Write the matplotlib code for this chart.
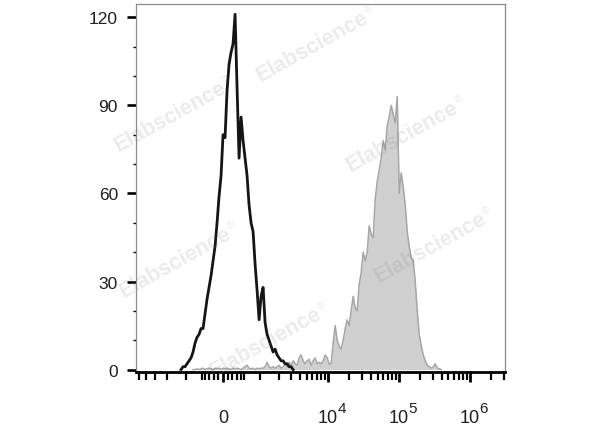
import numpy as np
import matplotlib
matplotlib.use("Agg")
import matplotlib.pyplot as plt

plt.rcParams["font.family"] = ["Liberation Sans", "DejaVu Sans"]

# biexponential-like display: arcsinh(x / cofactor)
COFACTOR = 662.0
T_LEFT, T_RIGHT = -2.825, 9.156
BIN_W = 0.065          # channel width in display units

# isotype control (black outline)
BLACK_T0 = -1.396
black_counts = [0, 1, 1, 2, 3, 4, 6, 9, 11, 12,
                14, 14, 19, 24, 28, 32, 37, 42, 50, 59,
                66, 80, 79, 95, 104, 108, 111, 121, 96, 72,
                86, 78, 72, 66, 56, 50, 47, 36, 27, 17,
                25, 28, 16, 12, 10, 8, 6, 7, 5, 4,
                3, 3, 2, 2, 1, 1, 0]

# stained sample (gray filled)
GRAY_T0 = -1.006
gray_counts = [0, 0, 0.3, 0, 0.3, 0.5, 0, 0.3, 0.5, 0.3,
               0, 0.5, 0.3, 0.5, 0, 0.5, 0.3, 0.5, 0.3, 0,
               0.5, 0.3, 0.5, 0.3, 0, 0.5, 1, 1.5, 0.5, 0.3,
               0.5, 0, 0.5, 0.3, 0.5, 0.5, 1, 2.5, 1, 0.5,
               1, 0.5, 1, 1.5, 0.5, 1, 2, 1, 2.5, 1.5,
               3, 2, 1.5, 4, 5, 3, 2, 3, 3.5, 1.5,
               3, 4, 2, 2.5, 2, 3, 5, 4, 2, 2,
               9, 15, 10, 8, 7, 10, 14, 17, 15, 20,
               25, 21, 20, 29, 33, 40, 37, 40, 49, 46,
               45, 58, 64, 68, 72, 78, 75, 83, 86, 90,
               87, 84, 93, 60, 67, 62, 56, 47, 42, 38,
               37, 30, 20, 12, 8, 5, 3, 1.5, 1, 0.5,
               1, 2, 0.5, 0.3, 0]

x_major = [0, 1e4, 1e5, 1e6]
x_labels = ["0", "10", "10", "10"]
x_exponents = ["", "4", "5", "6"]
x_minor = ([-5000, -4000, -3000, -2000, -1000]
           + [-500, -400, -300, -200, -100, 100, 200, 300, 400, 500]
           + [1000, 2000, 3000, 4000, 5000, 6000, 7000, 8000, 9000]
           + [2e4, 3e4, 4e4, 5e4, 6e4, 7e4, 8e4, 9e4]
           + [2e5, 3e5, 4e5, 5e5, 6e5, 7e5, 8e5, 9e5]
           + [2e6, 3e6])
y_major = [0, 30, 60, 90, 120]
y_minor = [10, 20, 40, 50, 70, 80, 100, 110]

# watermark centres (pixels from top-left)
watermarks = [(170, 117), (312, 47), (402, 137), (175, 263), (430, 248), (265, 343)]


def fwd(x):
    return np.arcsinh(np.asarray(x, dtype=float) / COFACTOR)


def inv(t):
    return COFACTOR * np.sinh(np.asarray(t, dtype=float))


def bin_centers(t0, n):
    return inv(t0 + BIN_W * (np.arange(n) + 0.5))


def main():
    fig = plt.figure(figsize=(6.0, 4.27), dpi=100)
    ax = fig.add_axes([136 / 600, 1 - 373 / 427, 369 / 600, 368 / 427])
    ax.set_xscale("function", functions=(fwd, inv))

    gx = bin_centers(GRAY_T0, len(gray_counts))
    ax.fill_between(gx, 0, gray_counts, color="#d0d0d0", lw=0, zorder=1)
    ax.plot(gx, gray_counts, color="#a6a6a6", lw=1.1, zorder=2)

    bx = bin_centers(BLACK_T0, len(black_counts))
    ax.plot(bx, black_counts, color="#151515", lw=2.0, zorder=3)

    ax.set_xlim(inv(T_LEFT), inv(T_RIGHT))
    ax.set_ylim(-0.8, 124.5)

    ax.set_xticks(x_major)
    ax.set_xticklabels(x_labels)
    ax.set_xticks(x_minor, minor=True)
    ax.set_yticks(y_major)
    ax.set_yticks(y_minor, minor=True)

    ax.tick_params(axis="x", which="major", direction="out", length=7, width=2.0,
                   pad=29, labelsize=13, labelcolor="#1e1e1e")
    ax.tick_params(axis="x", which="minor", direction="out", length=5.5, width=1.6)
    ax.tick_params(axis="y", which="major", direction="out", length=6.5, width=1.9,
                   pad=6.5, labelsize=12.5, labelcolor="#1e1e1e")
    ax.tick_params(axis="y", which="minor", direction="out", length=2.3, width=1.0)
    for lab in ax.get_xticklabels():
        lab.set_verticalalignment("baseline")

    # decade exponents, set as separate raised digits like the original
    for pos, exp in zip(x_major, x_exponents):
        if exp:
            ax.annotate(exp, xy=(pos, 0), xycoords=("data", "axes fraction"),
                        xytext=(7.0, -28.5), textcoords="offset points",
                        ha="left", va="baseline", fontsize=11, color="#1e1e1e",
                        annotation_clip=False)

    for side in ("left", "top", "right"):
        ax.spines[side].set_color("#8c8c8c")
        ax.spines[side].set_linewidth(0.9)
    ax.spines["bottom"].set_color("black")
    ax.spines["bottom"].set_linewidth(2.0)

    # Elabscience watermarks
    ang = np.deg2rad(29)
    for cx, cy in watermarks:
        fig.text(cx / 600, 1 - cy / 427, "Elabscience", rotation=29,
                 rotation_mode="anchor", ha="center", va="center",
                 fontsize=15.5, fontweight="bold", color="#808080", alpha=0.16)
        rx = cx + 68 * np.cos(ang) - 5 * np.sin(ang)
        ry = cy - 68 * np.sin(ang) - 5 * np.cos(ang)
        fig.text(rx / 600, 1 - ry / 427, "\u00ae", rotation=29,
                 rotation_mode="anchor", ha="center", va="center",
                 fontsize=7, color="#808080", alpha=0.16)

    fig.savefig("out.png", dpi=100)


if __name__ == "__main__":
    main()
